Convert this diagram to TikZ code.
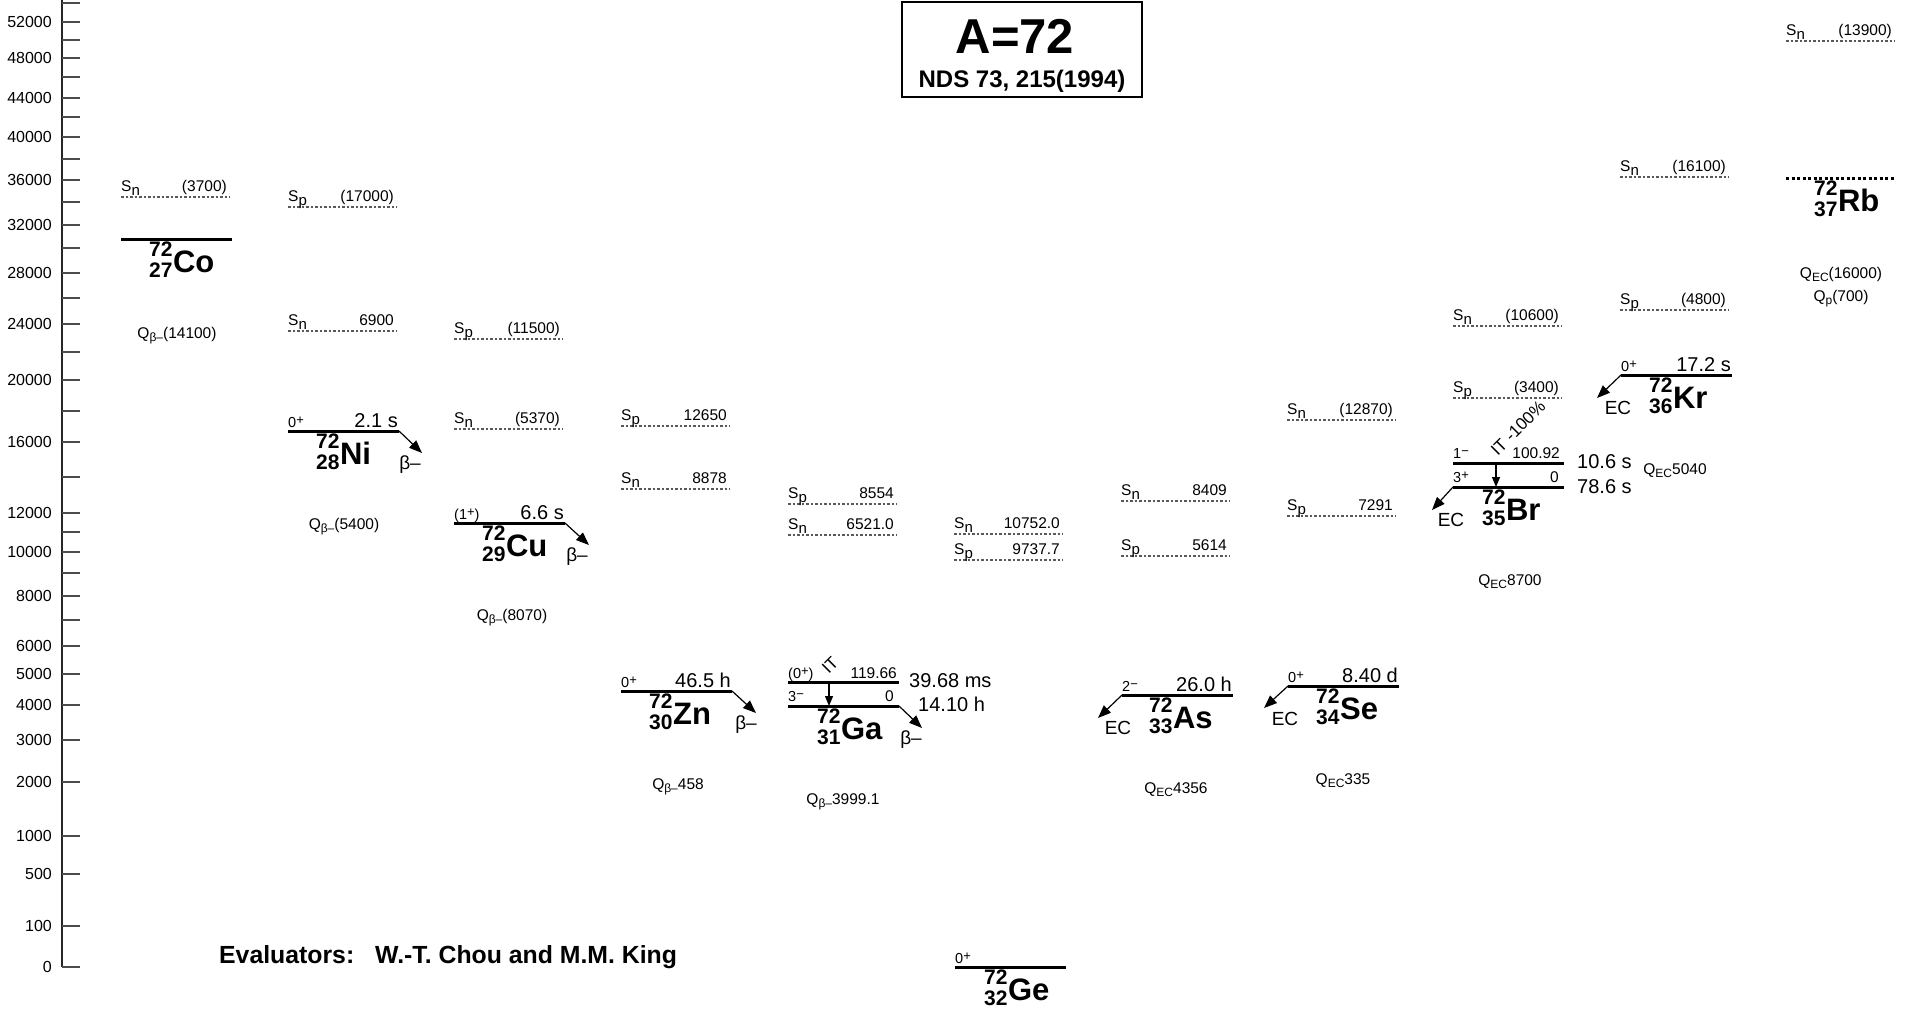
\documentclass[tikz,border=0pt]{standalone}
\usepackage{fontspec}
\setmainfont{Liberation Sans}
\usetikzlibrary{arrows.meta}
\newcommand{\fsz}[1]{\fontsize{#1pt}{#1pt}\selectfont}
\newcommand{\spin}[2]{#1\raisebox{3pt}{\fsz{13}#2}}
\newcommand{\qv}[2]{Q\raisebox{-3.5pt}{\fsz{12}#1}#2}
\newcommand{\nucl}[3]{\raisebox{-5pt}{\fontsize{21pt}{18.5pt}\selectfont\begin{tabular}[b]{@{}r@{}}#1\\#2\end{tabular}}\hspace{0.5pt}#3}
\newcommand{\lvl}[3]{%
  \coordinate (#1L) at (#2,#3);
  \coordinate (#1R) at ({#2+111},#3);
  \draw[lvlst] (#1L) -- (#1R);}
\newcommand{\sepline}[5]{%
  \coordinate (#1L) at (#2,#3);
  \coordinate (#1R) at ({#2+109},#3);
  \draw[sepst] (#1L) -- (#1R);
  \node[slab, anchor=base west] (#1S) at ([yshift=5.5pt]#1L) {S\raisebox{-4pt}{\fsz{15}#4}};
  \node[slab, anchor=base east] (#1V) at ([xshift=-3pt,yshift=5.5pt]#1R) {#5};}
\begin{document}
\begin{tikzpicture}[x=1pt,y=-1pt,
  axisst/.style={black!85, line width=1.3pt},
  tickst/.style={black!70, line width=1.3pt},
  ticklab/.style={font=\fsz{16}, anchor=east, inner sep=0},
  lvlst/.style={line width=3pt},
  rbst/.style={line width=3pt, dash pattern=on 3pt off 2.5pt},
  sepst/.style={black!65, line width=1.1pt, dash pattern=on 2.5pt off 2pt},
  slab/.style={font=\fsz{15.5}, inner sep=0},
  spinl/.style={font=\fsz{14.5}, inner sep=0, anchor=base west},
  elab/.style={font=\fsz{15.5}, inner sep=0, anchor=base east},
  hl/.style={font=\fsz{20}, inner sep=0},
  qlab/.style={font=\fsz{15.5}, inner sep=0, anchor=base},
  nuc/.style={font=\bfseries\fsz{31}, inner sep=0, anchor=base west},
  dlab/.style={font=\fsz{19}, inner sep=0, anchor=base},
  decay/.style={line width=1.2pt, -{Triangle[length=13pt,width=10pt]}},
  itarr/.style={line width=1.2pt, -{Triangle[length=10pt,width=8pt]}},
  itlab/.style={font=\fsz{17}, inner sep=0, rotate=45}
]
\useasboundingbox (0,0) rectangle (1913,1021);

% ---- energy axis ----
\coordinate (axT) at (62,0);
\coordinate (axB) at (62,967);
\draw[axisst] (axT) -- (axB);
\foreach \yy/\lab in {22/52000,58/48000,98/44000,137/40000,180/36000,225/32000,273/28000,324/24000,380/20000,442/16000,513/12000,552/10000,596/8000,646/6000,674/5000,705/4000,740/3000,782/2000,836/1000,874/500,926/100,967/0}{
  \draw[tickst] (62,\yy) -- (80,\yy);
  \node[ticklab] (t\lab) at (52,\yy) {\lab};
}
\foreach \yy in {3,40,77,117,159,202,248,298,352,411,477,532,573,620}{
  \draw[tickst] (62,\yy) -- (80,\yy);
}

% ---- title ----
\node[draw, line width=2pt, minimum width=240pt, minimum height=95pt, inner sep=0] (titlebox) at (1021.5,49) {};
\node[font=\bfseries\fsz{49}, anchor=base, inner sep=0] (titleA) at (1015,53) {A=72};
\node[font=\bfseries\fsz{24}, anchor=base, inner sep=0] (titleB) at (1022,87) {NDS 73, 215(1994)};

\node[font=\bfseries\fsz{24.8}, anchor=base west, inner sep=0] (eval) at (219,963) {Evaluators:\hspace{21pt}W.-T. Chou and M.M. King};

% ---- Co ----
\sepline{CoSn}{121}{197}{n}{(3700)}
\lvl{Co}{121}{239}
\node[nuc] (CoN) at (149,272) {\nucl{72}{27}{Co}};
\node[qlab] (CoQ) at (177,338) {\qv{β–}{(14100)}};

% ---- Ni ----
\sepline{NiSp}{288}{207}{p}{(17000)}
\sepline{NiSn}{288}{331}{n}{6900}
\lvl{Ni}{288}{431}
\node[spinl] (NiJ) at ([yshift=4pt]NiL) {\spin{0}{+}};
\node[hl, anchor=base east] (NiT) at ([xshift=-1pt,yshift=4pt]NiR) {2.1 s};
\coordinate (NiB) at (422,453);
\draw[decay] (NiR) -- (NiB);
\node[dlab] (NiD) at (410,469) {β–};
\node[nuc] (NiN) at (316,464) {\nucl{72}{28}{Ni}};
\node[qlab] (NiQ) at (344,529) {\qv{β–}{(5400)}};

% ---- Cu ----
\sepline{CuSp}{454}{339}{p}{(11500)}
\sepline{CuSn}{454}{429}{n}{(5370)}
\lvl{Cu}{454}{523}
\node[spinl] (CuJ) at ([yshift=4pt]CuL) {(\spin{1}{+})};
\node[hl, anchor=base east] (CuT) at ([xshift=-1pt,yshift=4pt]CuR) {6.6 s};
\coordinate (CuB) at (589,545);
\draw[decay] (CuR) -- (CuB);
\node[dlab] (CuD) at (577,561) {β–};
\node[nuc] (CuN) at (482,556) {\nucl{72}{29}{Cu}};
\node[qlab] (CuQ) at (512,620) {\qv{β–}{(8070)}};

% ---- Zn ----
\sepline{ZnSp}{621}{426}{p}{12650}
\sepline{ZnSn}{621}{489}{n}{8878}
\lvl{Zn}{621}{691}
\node[spinl] (ZnJ) at ([yshift=4pt]ZnL) {\spin{0}{+}};
\node[hl, anchor=base east] (ZnT) at ([xshift=-1pt,yshift=4pt]ZnR) {46.5 h};
\coordinate (ZnB) at (756,713);
\draw[decay] (ZnR) -- (ZnB);
\node[dlab] (ZnD) at (746,729) {β–};
\node[nuc] (ZnN) at (649,724) {\nucl{72}{30}{Zn}};
\node[qlab] (ZnQ) at (678,789) {\qv{β–}{458}};

% ---- Ga ----
\sepline{GaSp}{788}{504}{p}{8554}
\sepline{GaSn}{788}{535}{n}{6521.0}
\lvl{GaU}{788}{682}
\lvl{Ga}{788}{706}
\node[spinl] (GaUJ) at ([yshift=4pt]GaUL) {(\spin{0}{+})};
\node[elab] (GaUE) at ([xshift=-2pt,yshift=4pt]GaUR) {119.66};
\node[spinl] (GaJ) at ([yshift=5pt]GaL) {\spin{3}{−}};
\node[elab] (GaE) at ([xshift=-5pt,yshift=5pt]GaR) {0};
\coordinate (GaITa) at (829,682);
\coordinate (GaITb) at (829,706);
\draw[itarr] (GaITa) -- (GaITb);
\node[itlab] (GaIT) at (830,665) {IT};
\node[hl, anchor=west] (GaUT) at (909,681) {39.68 ms};
\node[hl, anchor=west] (GaT) at (918,704) {14.10 h};
\coordinate (GaB) at (922,728);
\draw[decay] (GaR) -- (GaB);
\node[dlab] (GaD) at (911,744) {β–};
\node[nuc] (GaN) at (817,739) {\nucl{72}{31}{Ga}};
\node[qlab] (GaQ) at (843,804) {\qv{β–}{3999.1}};

% ---- Ge ----
\sepline{GeSn}{954}{534}{n}{10752.0}
\sepline{GeSp}{954}{560}{p}{9737.7}
\lvl{Ge}{955}{967}
\node[spinl] (GeJ) at ([yshift=4pt]GeL) {\spin{0}{+}};
\node[nuc] (GeN) at (984,1000) {\nucl{72}{32}{Ge}};

% ---- As ----
\sepline{AsSn}{1121}{501}{n}{8409}
\sepline{AsSp}{1121}{556}{p}{5614}
\lvl{As}{1122}{695}
\node[spinl] (AsJ) at ([yshift=4pt]AsL) {\spin{2}{−}};
\node[hl, anchor=base east] (AsT) at ([xshift=-1pt,yshift=4pt]AsR) {26.0 h};
\coordinate (AsB) at (1098,718);
\draw[decay] (AsL) -- (AsB);
\node[dlab] (AsD) at (1118,734) {EC};
\node[nuc] (AsN) at (1149,728) {\nucl{72}{33}{As}};
\node[qlab] (AsQ) at (1176,793) {\qv{EC}{4356}};

% ---- Se ----
\sepline{SeSn}{1287}{420}{n}{(12870)}
\sepline{SeSp}{1287}{516}{p}{7291}
\lvl{Se}{1288}{686}
\node[spinl] (SeJ) at ([yshift=4pt]SeL) {\spin{0}{+}};
\node[hl, anchor=base east] (SeT) at ([xshift=-1pt,yshift=4pt]SeR) {8.40 d};
\coordinate (SeB) at (1264,708);
\draw[decay] (SeL) -- (SeB);
\node[dlab] (SeD) at (1285,725) {EC};
\node[nuc] (SeN) at (1316,719) {\nucl{72}{34}{Se}};
\node[qlab] (SeQ) at (1343,784) {\qv{EC}{335}};

% ---- Br ----
\sepline{BrSn}{1453}{326}{n}{(10600)}
\sepline{BrSp}{1453}{398}{p}{(3400)}
\lvl{BrU}{1453}{463}
\lvl{Br}{1453}{487}
\node[spinl] (BrUJ) at ([yshift=5pt]BrUL) {\spin{1}{−}};
\node[elab] (BrUE) at ([xshift=-4pt,yshift=5pt]BrUR) {100.92};
\node[spinl] (BrJ) at ([yshift=5pt]BrL) {\spin{3}{+}};
\node[elab] (BrE) at ([xshift=-5pt,yshift=5pt]BrR) {0};
\coordinate (BrITa) at (1496,463);
\coordinate (BrITb) at (1496,487);
\draw[itarr] (BrITa) -- (BrITb);
\node[itlab] (BrIT) at (1518,428) {IT -100\%};
\node[hl, anchor=west] (BrUT) at (1577,462) {10.6 s};
\node[hl, anchor=west] (BrT) at (1577,487) {78.6 s};
\coordinate (BrB) at (1432,510);
\draw[decay] (BrL) -- (BrB);
\node[dlab] (BrD) at (1451,526) {EC};
\node[nuc] (BrN) at (1482,520) {\nucl{72}{35}{Br}};
\node[qlab] (BrQ) at (1510,585) {\qv{EC}{8700}};

% ---- Kr ----
\sepline{KrSn}{1620}{177}{n}{(16100)}
\sepline{KrSp}{1620}{310}{p}{(4800)}
\lvl{Kr}{1621}{375}
\node[spinl] (KrJ) at ([yshift=4pt]KrL) {\spin{0}{+}};
\node[hl, anchor=base east] (KrT) at ([xshift=-1pt,yshift=4pt]KrR) {17.2 s};
\coordinate (KrB) at (1597,398);
\draw[decay] (KrL) -- (KrB);
\node[dlab] (KrD) at (1618,414) {EC};
\node[nuc] (KrN) at (1649,408) {\nucl{72}{36}{Kr}};
\node[qlab] (KrQ) at (1675,474) {\qv{EC}{5040}};

% ---- Rb ----
\sepline{RbSn}{1786}{41}{n}{(13900)}
\coordinate (RbL) at (1786,178);
\coordinate (RbR) at (1895,178);
\draw[rbst] (RbL) -- (RbR);
\node[nuc] (RbN) at (1814,211) {\nucl{72}{37}{Rb}};
\node[qlab] (RbQ) at (1841,278) {\qv{EC}{(16000)}};
\node[qlab] (RbQp) at (1841,301) {\qv{p}{(700)}};
\end{tikzpicture}
\end{document}
